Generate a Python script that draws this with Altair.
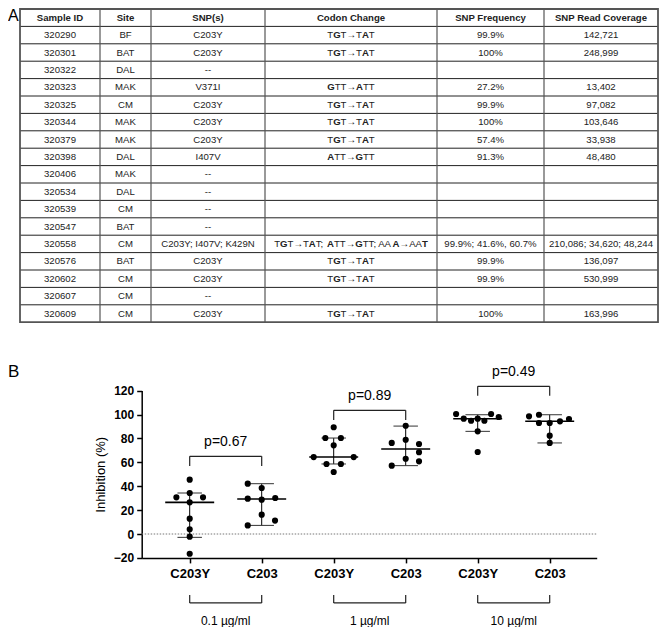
import altair as alt
import pandas as pd

# ---------------- Panel A: table contents ----------------
headers = ["Sample ID", "Site", "SNP(s)", "Codon Change", "SNP Frequency", "SNP Read Coverage"]
sample_ids = ["320290", "320301", "320322", "320323", "320325", "320344", "320379", "320398",
              "320406", "320534", "320539", "320547", "320558", "320576", "320602", "320607", "320609"]
sites = ["BF", "BAT", "DAL", "MAK", "CM", "MAK", "MAK", "DAL", "MAK", "DAL", "CM", "BAT",
         "CM", "BAT", "CM", "CM", "CM"]
snps = ["C203Y", "C203Y", "--", "V371I", "C203Y", "C203Y", "C203Y", "I407V", "--", "--", "--", "--",
        "C203Y; I407V; K429N", "C203Y", "C203Y", "--", "C203Y"]
# letters in [ ] are printed in bold
codons = ["T[G]T→T[A]T", "T[G]T→T[A]T", "", "[G]TT→[A]TT", "T[G]T→T[A]T", "T[G]T→T[A]T",
          "T[G]T→T[A]T", "[A]TT→[G]TT", "", "", "", "",
          "T[G]T→T[A]T; [A]TT→[G]TT; AA[A]→AA[T]", "T[G]T→T[A]T", "T[G]T→T[A]T", "", "T[G]T→T[A]T"]
freqs = ["99.9%", "100%", "", "27.2%", "99.9%", "100%", "57.4%", "91.3%", "", "", "", "",
         "99.9%; 41.6%, 60.7%", "99.9%", "99.9%", "", "100%"]
coverages = ["142,721", "248,999", "", "13,402", "97,082", "103,646", "33,938", "48,480", "", "", "", "",
             "210,086; 34,620; 48,244", "136,097", "530,999", "", "163,996"]

# ---------------- Panel B: inhibition data ----------------
group_labels = ["C203Y", "C203", "C203Y", "C203", "C203Y", "C203"]
conc_labels = ["0.1 µg/ml", "1 µg/ml", "10 µg/ml"]
p_labels = ["p=0.67", "p=0.89", "p=0.49"]
inhibition = [
    [45.5, 34.3, 30.7, 30.7, 26.5, 12.8, 3.9, -2.2, -16.5],
    [42.1, 38.5, 29.6, 28.7, 30.1, 16.2, 11.2, 7.2],
    [89.3, 80.3, 80.3, 74.2, 64.4, 64.4, 58.6, 58.6, 51.9],
    [90.6, 78.9, 76.2, 75.3, 68.4, 63.0, 60.8, 57.2],
    [100.4, 96.5, 94.8, 96.5, 94.8, 100.4, 97.9, 85.9, 68.6],
    [98.5, 99.8, 92.9, 92.9, 94.3, 96.2, 82.3, 76.2],
]
# horizontal spread of overlapping dots (fraction of one category step)
spread = [
    [0, 0, -0.185, 0.185, 0, 0, 0, 0, 0],
    [-0.194, 0, -0.194, 0, 0.188, 0, 0.185, -0.194],
    [0, -0.116, 0.10, 0, -0.278, 0.278, -0.10, 0.10, 0],
    [0, 0, -0.194, 0.185, 0.185, 0, 0.185, -0.194],
    [-0.30, -0.194, -0.092, 0, 0.093, 0.186, 0.292, 0, 0],
    [-0.287, -0.149, -0.149, 0, 0.143, 0.268, 0, 0],
]
medians = [26.5, 29.3, 64.4, 71.1, 96.5, 94.3]
err_low = [-2.8, 7.2, 58.6, 57.2, 85.9, 76.2]
err_high = [34.3, 42.1, 80.3, 90.3, 99.8, 99.8]
bracket_y = [65.0, 103.5, 123.6]

# ---------------- layout ----------------
W, H = 652, 617
FONT = "Liberation Sans, Arial, sans-serif"
col_edges = [12, 92, 143, 257, 429, 536, 650]
n_rows = len(sample_ids) + 1
tx = alt.Scale(domain=[0, W], range=[0, W], nice=False, zero=False)
ty = alt.Scale(domain=[0, n_rows], range=[1, 1 + 17.4 * n_rows], nice=False, zero=False)
x_dom = [-0.6667, 5.6528]
X_RANGE = [133.7, 588.7]
Y_RANGE = [549.9, 382.6]
px = alt.Scale(domain=x_dom, range=X_RANGE, nice=False, zero=False)
py = alt.Scale(domain=[-20, 120], range=Y_RANGE, nice=False, zero=False)


def TX(f):
    return alt.X(f, type="quantitative", scale=tx, axis=None)


def TY(f):
    return alt.Y(f, type="quantitative", scale=ty, axis=None)


def PX(f):
    return alt.X(f, type="quantitative", scale=px, axis=None)


def PY(f):
    return alt.Y(f, type="quantitative", scale=py, axis=None)


def center(c):
    return (col_edges[c] + col_edges[c + 1]) / 2


FS = 9.6

# table cells
cells = []
for c, h in enumerate(headers):
    cells.append(dict(r=0.5, cx=center(c), t=h, bold=True))
columns = [sample_ids, sites, snps, None, freqs, coverages]
for i in range(len(sample_ids)):
    for c, col in enumerate(columns):
        if col is not None and col[i]:
            cells.append(dict(r=i + 1.5, cx=center(c), t=col[i], bold=False))
df_cells = pd.DataFrame(cells)

# approximate advance widths (em) used to lay mixed regular/bold runs side by side
REG = {"T": 0.611, "G": 0.778, "A": 0.667, ";": 0.278, " ": 0.278}
BLD = {"T": 0.611, "G": 0.778, "A": 0.722}
ARROW_SLOT = 1.0


def runs(s):
    out, buf = [], ""
    for ch in s:
        if ch == "[":
            if buf:
                out.append((buf, "n"))
            buf = ""
        elif ch == "]":
            out.append((buf, "b"))
            buf = ""
        elif ch == "→":
            if buf:
                out.append((buf, "n"))
            buf = ""
            out.append(("→", "a"))
        else:
            buf += ch
    if buf:
        out.append((buf, "n"))
    return out


def run_width(t, kind):
    if kind == "a":
        return ARROW_SLOT * FS
    tab = BLD if kind == "b" else REG
    return sum(tab[ch] for ch in t) * FS


segs = []
for i, s in enumerate(codons):
    if not s:
        continue
    rr = runs(s)
    widths = [run_width(t, k) for t, k in rr]
    x = center(3) - sum(widths) / 2
    for (t, k), w in zip(rr, widths):
        segs.append(dict(r=i + 1.5, x=x + (w / 2 if k == "a" else 0), t=t, kind=k))
        x += w
df_segs = pd.DataFrame(segs)

df_h = pd.DataFrame(dict(r=list(range(1, n_rows)), x0=col_edges[0], x1=col_edges[-1]))
df_v = pd.DataFrame(dict(x=col_edges[1:-1], r0=0, r1=n_rows))
df_box = pd.DataFrame(dict(x0=[col_edges[0]], x1=[col_edges[-1]], r0=[0], r1=[n_rows]))


def txt(df, bold, align, xf):
    return alt.Chart(df).mark_text(
        font=FONT, fontSize=FS, color="#222", baseline="middle", align=align,
        fontWeight="bold" if bold else "normal"
    ).encode(x=TX(xf), y=TY("r:Q"), text="t:N")


layers = [
    alt.Chart(df_h).mark_rule(color="#222", strokeWidth=1).encode(x=TX("x0:Q"), x2="x1:Q", y=TY("r:Q")),
    alt.Chart(df_v).mark_rule(color="#555", strokeWidth=1.2).encode(x=TX("x:Q"), y=TY("r0:Q"), y2="r1:Q"),
    alt.Chart(df_box).mark_rect(fillOpacity=0, stroke="#555", strokeWidth=1.8).encode(
        x=TX("x0:Q"), x2="x1:Q", y=TY("r0:Q"), y2="r1:Q"),
    txt(df_cells[~df_cells.bold], False, "center", "cx:Q"),
    txt(df_cells[df_cells.bold], True, "center", "cx:Q"),
    txt(df_segs[df_segs.kind == "n"], False, "left", "x:Q"),
    txt(df_segs[df_segs.kind == "b"], True, "left", "x:Q"),
    txt(df_segs[df_segs.kind == "a"], False, "center", "x:Q"),
    alt.Chart(pd.DataFrame(dict(t=["A"]))).mark_text(font=FONT, fontSize=16, align="left",
                                                       baseline="alphabetic", color="black").encode(
        x=alt.value(0), y=alt.value(13), text="t:N"),
    alt.Chart(pd.DataFrame(dict(t=["B"]))).mark_text(font=FONT, fontSize=17, align="left",
                                                       baseline="alphabetic", color="black").encode(
        x=alt.value(0), y=alt.value(369), text="t:N"),
]

# ---------------- Panel B chart ----------------
dots = []
for g, (vals, offs) in enumerate(zip(inhibition, spread)):
    for v, o in zip(vals, offs):
        dots.append(dict(xp=g + o, v=v))
df_dots = pd.DataFrame(dots)
df_stats = pd.DataFrame(dict(g=list(range(6)), med=medians, lo=err_low, hi=err_high))
df_stats["m0"] = df_stats.g - 0.34
df_stats["m1"] = df_stats.g + 0.34
df_stats["c0"] = df_stats.g - 0.17
df_stats["c1"] = df_stats.g + 0.17

df_zero = pd.DataFrame(dict(x0=[x_dom[0]], x1=[x_dom[1]], y=[0]))

pb_h = pd.DataFrame(dict(x0=[2 * k for k in range(3)], x1=[2 * k + 1 for k in range(3)], y=bracket_y))
pb_l = pd.DataFrame(dict(x=[2 * k + j for k in range(3) for j in range(2)],
                         y0=[bracket_y[k] - 8 for k in range(3) for j in range(2)],
                         y1=[bracket_y[k] for k in range(3) for j in range(2)]))
pb_t = pd.DataFrame(dict(x=[2 * k + 0.5 for k in range(3)], y=[b + 12 for b in bracket_y], t=p_labels))

low_top, low_bot, low_txt = -51.0, -57.7, -72.6
cb_h = pd.DataFrame(dict(x0=[2 * k for k in range(3)], x1=[2 * k + 1 for k in range(3)], y=[low_bot] * 3))
cb_l = pd.DataFrame(dict(x=[2 * k + j for k in range(3) for j in range(2)], y0=low_top, y1=low_bot))
cb_t = pd.DataFrame(dict(x=[2 * k + 0.5 for k in range(3)], y=[low_txt] * 3, t=conc_labels))

label_expr = "datum.value % 2 == 0 ? '" + group_labels[0] + "' : '" + group_labels[1] + "'"

x_axis = alt.Axis(orient="bottom", offset=Y_RANGE[0] - H, values=list(range(6)), labelExpr=label_expr,
                  title=None, grid=False, tickSize=5, tickWidth=1.5, tickColor="black",
                  domainColor="black", domainWidth=1.5, labelFont=FONT, labelFontSize=13,
                  labelFontWeight="bold", labelColor="black", labelPadding=5, labelFlush=False,
                  labelOverlap=False)
y_axis = alt.Axis(orient="left", offset=-X_RANGE[0], values=[-20, 0, 20, 40, 60, 80, 100, 120],
                  title="Inhibition (%)", titleFont=FONT, titleFontSize=13, titleFontWeight="normal",
                  titleColor="black", titlePadding=6, grid=False, tickSize=5, tickWidth=1.5,
                  tickColor="black", domainColor="black", domainWidth=1.5, labelFont=FONT,
                  labelFontSize=12, labelFontWeight="bold", labelColor="black", labelPadding=3,
                  labelFlush=False, labelOverlap=False)

layers += [
    alt.Chart(df_zero).mark_rule(color="#777", strokeWidth=1, strokeDash=[1.5, 1.5]).encode(
        x=PX("x0:Q"), x2="x1:Q", y=PY("y:Q")),
    alt.Chart(df_stats).mark_rule(color="black", strokeWidth=1).encode(x=PX("g:Q"), y=PY("lo:Q"), y2="hi:Q"),
    alt.Chart(df_stats).mark_rule(color="#333", strokeWidth=1).encode(x=PX("c0:Q"), x2="c1:Q", y=PY("lo:Q")),
    alt.Chart(df_stats).mark_rule(color="#333", strokeWidth=1).encode(x=PX("c0:Q"), x2="c1:Q", y=PY("hi:Q")),
    alt.Chart(df_stats).mark_rule(color="black", strokeWidth=1.6).encode(x=PX("m0:Q"), x2="m1:Q", y=PY("med:Q")),
    alt.Chart(df_dots).mark_circle(size=38, color="black", opacity=1).encode(
        x=alt.X("xp:Q", scale=px, axis=x_axis), y=alt.Y("v:Q", scale=py, axis=y_axis)),
    alt.Chart(pb_h).mark_rule(color="#222", strokeWidth=1.2).encode(x=PX("x0:Q"), x2="x1:Q", y=PY("y:Q")),
    alt.Chart(pb_l).mark_rule(color="#222", strokeWidth=1.2).encode(x=PX("x:Q"), y=PY("y0:Q"), y2="y1:Q"),
    alt.Chart(pb_t).mark_text(font=FONT, fontSize=14, color="black", baseline="middle").encode(
        x=PX("x:Q"), y=PY("y:Q"), text="t:N"),
    alt.Chart(cb_h).mark_rule(color="#222", strokeWidth=1.2).encode(x=PX("x0:Q"), x2="x1:Q", y=PY("y:Q")),
    alt.Chart(cb_l).mark_rule(color="#222", strokeWidth=1.2).encode(x=PX("x:Q"), y=PY("y0:Q"), y2="y1:Q"),
    alt.Chart(cb_t).mark_text(font=FONT, fontSize=12, color="black", baseline="middle").encode(
        x=PX("x:Q"), y=PY("y:Q"), text="t:N"),
]

chart = alt.layer(*layers).resolve_scale(
    x="independent", y="independent"
).resolve_axis(x="independent", y="independent").properties(
    width=W, height=H, padding=0).configure_view(stroke=None)

chart.save("out.html", embed_options={"renderer": "svg", "actions": False})
